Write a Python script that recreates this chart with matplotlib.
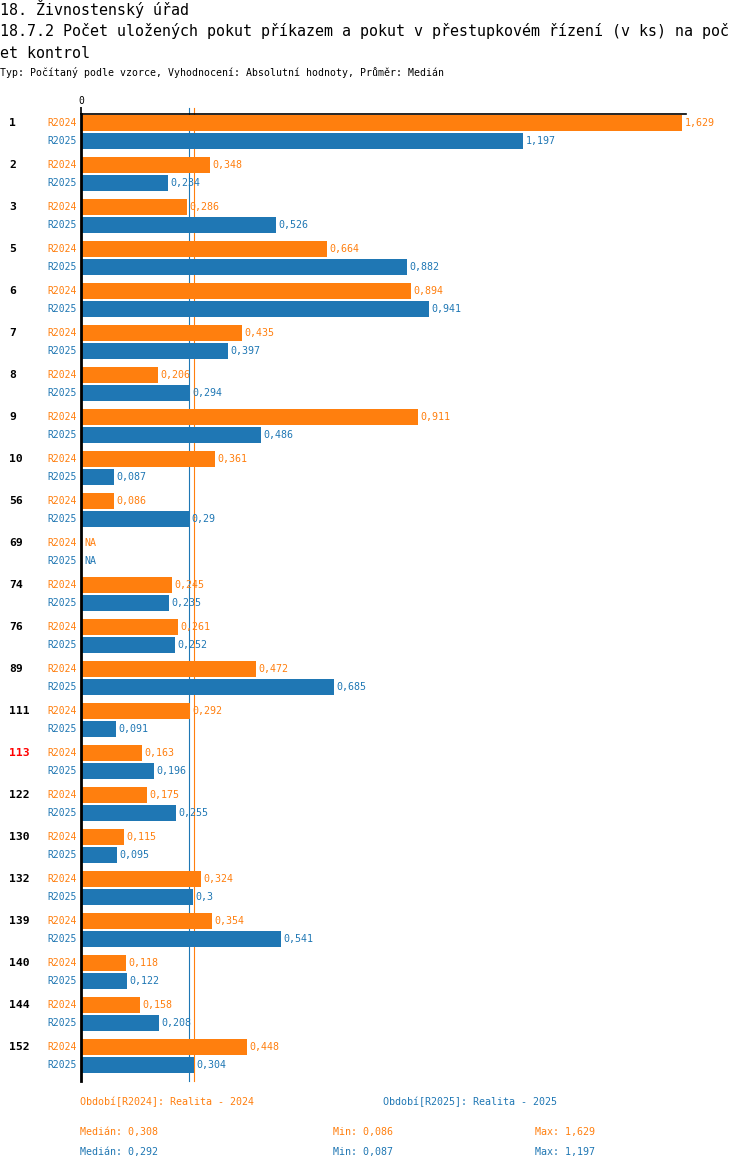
import matplotlib.pyplot as plt
import matplotlib.transforms as mtransforms
import numpy as np

# data
groups = ['1', '2', '3', '5', '6', '7', '8', '9', '10', '56', '69', '74', '76',
          '89', '111', '113', '122', '130', '132', '139', '140', '144', '152']
r2024 = [1.629, 0.348, 0.286, 0.664, 0.894, 0.435, 0.206, 0.911, 0.361, 0.086,
         np.nan, 0.245, 0.261, 0.472, 0.292, 0.163, 0.175, 0.115, 0.324, 0.354,
         0.118, 0.158, 0.448]
r2025 = [1.197, 0.234, 0.526, 0.882, 0.941, 0.397, 0.294, 0.486, 0.087, 0.29,
         np.nan, 0.235, 0.252, 0.685, 0.091, 0.196, 0.255, 0.095, 0.3, 0.541,
         0.122, 0.208, 0.304]
highlight = '113'

orange = '#ff7f0e'
blue = '#1f77b4'
mono = 'DejaVu Sans Mono'


def fmt(v):
    return ('%.3f' % v).rstrip('0').rstrip('.').replace('.', ',')


W, H = 750, 1170
fig = plt.figure(figsize=(W / 100, H / 100), dpi=100)

# axes placed in pixels
x0, x1, y0, y1 = 81, 686, 114, 1081
ax = fig.add_axes([x0 / W, 1 - y1 / H, (x1 - x0) / W, (y1 - y0) / H])
step = 42.0
ax.set_ylim((y1 - y0) / step, 0)
ax.set_xlim(0, 1.629 * (x1 - x0) / 600)

n = len(groups)
idx = np.arange(n)
off24, off25, bh = 9 / step, 27 / step, 16 / step

v24 = np.nan_to_num(np.array(r2024))
v25 = np.nan_to_num(np.array(r2025))
ax.barh(idx + off24, v24, height=bh, color=orange, left=0.003, zorder=2)
ax.barh(idx + off25, v25, height=bh, color=blue, left=0.003, zorder=2)

# median lines sit behind the bars
med24 = np.nanmedian(r2024)
med25 = np.nanmedian(r2025)
ax.axvline(med25, color=blue, lw=0.8, ymax=1.006, clip_on=False, zorder=1)
ax.axvline(med24, color=orange, lw=0.8, ymax=1.006, clip_on=False, zorder=1)

for s in ['right', 'bottom']:
    ax.spines[s].set_visible(False)
ax.spines['left'].set_linewidth(2)
ax.spines['top'].set_linewidth(1.2)
ax.set_yticks([])
ax.xaxis.set_ticks_position('top')
ax.set_xticks([0])
ax.set_xticklabels(['0'], fontsize=7, family=mono)
ax.tick_params(axis='x', length=5, width=1.2, pad=1)

blend = mtransforms.blended_transform_factory(fig.transFigure, ax.transData)
for i in range(n):
    for vals, off, col, name in [(r2024, off24, orange, 'R2024'),
                                 (r2025, off25, blue, 'R2025')]:
        v = vals[i]
        ax.annotate(name, (0, i + off), xytext=(-3, 0), textcoords='offset points',
                    ha='right', va='center', color=col, fontsize=7, family=mono)
        txt = 'NA' if np.isnan(v) else fmt(v)
        xv = 0 if np.isnan(v) else v
        ax.annotate(txt, (xv, i + off), xytext=(2.5, 0), textcoords='offset points',
                    ha='left', va='center', color=col, fontsize=7.2, family=mono,
                    annotation_clip=False)
    fig.text(9 / W, i + off24, groups[i], transform=blend, ha='left', va='center',
             fontsize=8.2, fontweight='bold', family=mono,
             color='red' if groups[i] == highlight else 'black')

# header
fig.text(0, 1 - 9 / H, '18. Živnostenský úřad', fontsize=10.8, family=mono, va='center')
fig.text(0, 1 - 31 / H,
         '18.7.2 Počet uložených pokut příkazem a pokut v přestupkovém řízení (v ks) na poč',
         fontsize=10.8, family=mono, va='center')
fig.text(0, 1 - 53 / H, 'et kontrol', fontsize=10.8, family=mono, va='center')
fig.text(0, 1 - 73 / H,
         'Typ: Počítaný podle vzorce, Vyhodnocení: Absolutní hodnoty, Průměr: Medián',
         fontsize=7.15, family=mono, va='center')

# footer
fig.text(80 / W, 1 - 1102 / H, 'Období[R2024]: Realita - 2024', color=orange,
         fontsize=7.2, family=mono, va='center')
fig.text(383 / W, 1 - 1102 / H, 'Období[R2025]: Realita - 2025', color=blue,
         fontsize=7.2, family=mono, va='center')
for vals, col, yy in [(r2024, orange, 1132), (r2025, blue, 1152)]:
    fig.text(80 / W, 1 - yy / H, 'Medián: ' + fmt(np.nanmedian(vals)), color=col,
             fontsize=7.2, family=mono, va='center')
    fig.text(333 / W, 1 - yy / H, 'Min: ' + fmt(np.nanmin(vals)), color=col,
             fontsize=7.2, family=mono, va='center')
    fig.text(535 / W, 1 - yy / H, 'Max: ' + fmt(np.nanmax(vals)), color=col,
             fontsize=7.2, family=mono, va='center')

fig.savefig('out.png', dpi=100)
